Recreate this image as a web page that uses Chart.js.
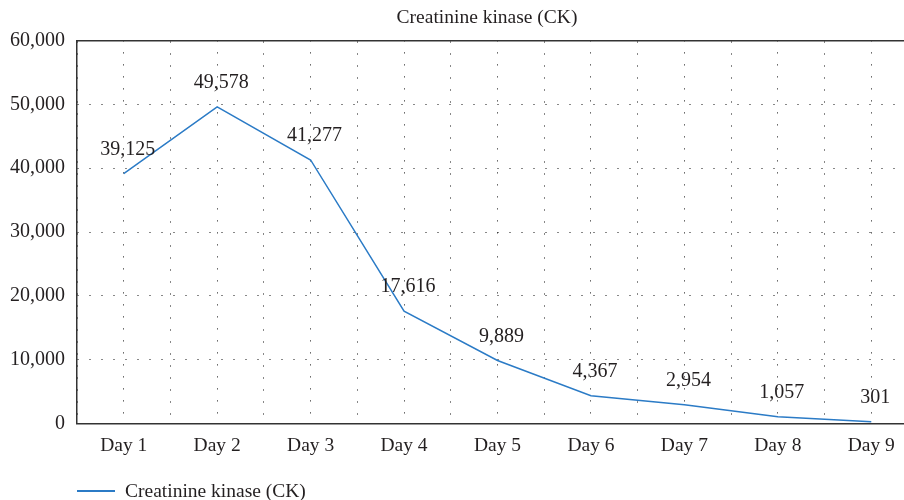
<!DOCTYPE html>
<html>
<head>
<meta charset="utf-8">
<script src="https://cdn.jsdelivr.net/npm/chart.js@4"></script>
<style>
  html, body { margin: 0; padding: 0; background: #fff; overflow: hidden; }
  .wrap { position: relative; width: 904px; height: 500px; overflow: hidden; }
  .box { position: absolute; left: 0; top: 0; width: 974px; height: 500px; }
  .legend {
    position: absolute; left: 77px; top: 480px;
    font-family: "Liberation Serif", "DejaVu Serif", serif; font-size: 19.5px; color: #231f20;
    display: flex; align-items: center;
  }
  .legend .swatch { width: 38px; height: 2px; background: #2b7bc6; margin-right: 10px; }
</style>
</head>
<body>
<div class="wrap">
  <div class="box"><canvas id="chart"></canvas></div>
  <div class="legend"><span class="swatch"></span><span>Creatinine kinase (CK)</span></div>
</div>
<script>
const DAYS = ['Day 1', 'Day 2', 'Day 3', 'Day 4', 'Day 5', 'Day 6', 'Day 7', 'Day 8', 'Day 9'];
const CK_VALUES = [39125, 49578, 41277, 17616, 9889, 4367, 2954, 1057, 301];
const SERIES_NAME = 'Creatinine kinase (CK)';

const INK = '#231f20';
const LINE = '#2b7bc6';
const FONT = '"Liberation Serif", "DejaVu Serif", serif';
const dottedGrid = { color: '#111', lineWidth: 1, drawTicks: false };
// in v4 the grid line dash lives under border.dash
const axisBorder = { display: true, color: '#333', width: 1.5, dash: [1, 11] };

// value labels above each point, positioned from the dataset's own points
const pointLabels = {
  id: 'pointLabels',
  afterDatasetsDraw(chart) {
    const ctx = chart.ctx;
    const meta = chart.getDatasetMeta(0);
    ctx.save();
    ctx.font = '20px ' + FONT;
    ctx.fillStyle = INK;
    ctx.textAlign = 'center';
    ctx.textBaseline = 'middle';
    meta.data.forEach((pt, i) => {
      ctx.fillText(CK_VALUES[i].toLocaleString('en-US'), pt.x + 4, pt.y - 24);
    });
    ctx.restore();
  }
};

new Chart(document.getElementById('chart'), {
  type: 'line',
  data: {
    labels: DAYS,
    datasets: [{
      label: SERIES_NAME,
      data: CK_VALUES,
      borderColor: LINE,
      backgroundColor: LINE,
      borderWidth: 1.5,
      pointRadius: 0,
      tension: 0,
      xAxisID: 'x',
      yAxisID: 'y'
    }]
  },
  options: {
    responsive: true,
    maintainAspectRatio: false,
    animation: false,
    layout: { padding: { top: 0, bottom: 31, left: 0, right: 0 } },
    plugins: {
      legend: { display: false },
      tooltip: { enabled: false },
      title: {
        display: true,
        text: SERIES_NAME,
        color: INK,
        font: { family: FONT, size: 19.5, weight: 'normal' },
        padding: { top: 6, bottom: 11 }
      }
    },
    scales: {
      x: {
        type: 'category',
        position: 'bottom',
        offset: true,
        grid: { ...dottedGrid, offset: false },
        border: axisBorder,
        ticks: { color: INK, padding: 11, font: { family: FONT, size: 19.5 } }
      },
      x2: {
        type: 'category',
        position: 'top',
        labels: DAYS,
        offset: true,
        grid: { ...dottedGrid, offset: true },
        border: axisBorder,
        ticks: { display: false }
      },
      y: {
        min: 0,
        max: 60000,
        position: 'left',
        grid: dottedGrid,
        border: axisBorder,
        ticks: {
          stepSize: 10000,
          padding: 12,
          color: INK,
          font: { family: FONT, size: 20 },
          callback: v => v.toLocaleString('en-US')
        },
        afterFit: s => { s.width = 77; }
      },
      y2: {
        position: 'right',
        grid: { display: false },
        border: { display: false },
        ticks: { display: false },
        afterFit: s => { s.width = 56; }
      }
    }
  },
  plugins: [pointLabels]
});
</script>
</body>
</html>
